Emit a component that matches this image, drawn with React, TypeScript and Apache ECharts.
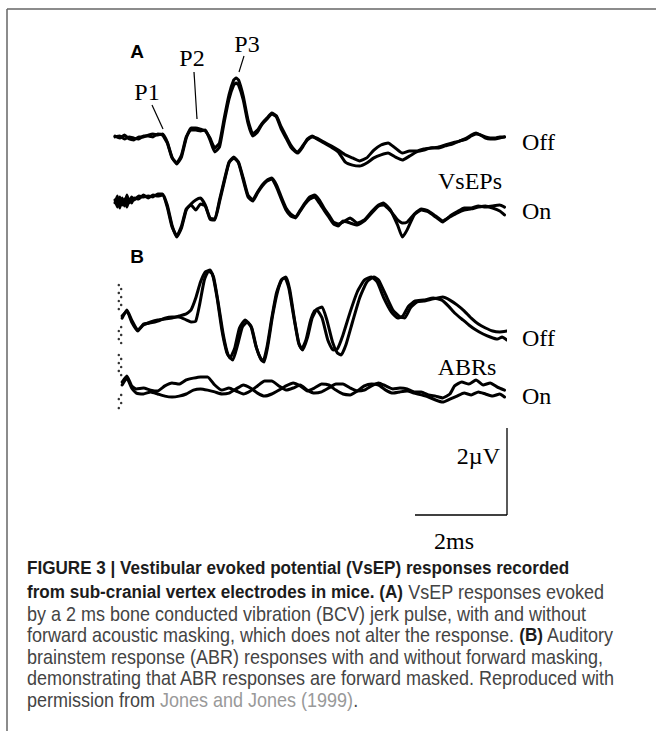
import React, { useEffect, useRef } from "react";
import * as echarts from "echarts";

// ---- Data: time in ms, amplitude in µV relative to each trace's baseline ----
const vsepOff1: [number, number][] = [
  [0.0, 0], [0.1, -0.07], [0.2, 0.03], [0.3, -0.1], [0.4, -0.13], [0.5, -0.03], [0.6, -0.03], [0.7, 0.03],
  [0.8, 0.07], [0.9, 0.03], [1.0, 0.07], [1.1, -0.2], [1.2, -0.7], [1.3, -0.93], [1.4, -0.7], [1.5, -0.07],
  [1.6, 0.27], [1.7, 0.27], [1.8, 0.23], [1.9, 0.17], [2.0, -0.07], [2.1, -0.4], [2.2, -0.23], [2.3, 0.6],
  [2.4, 1.37], [2.5, 1.87], [2.55, 1.93], [2.6, 1.87], [2.7, 1.33], [2.8, 0.53], [2.9, 0.07], [3.0, 0.2],
  [3.1, 0.43], [3.2, 0.6], [3.3, 0.77], [3.4, 0.67], [3.5, 0.3], [3.6, 0], [3.7, -0.3], [3.8, -0.5],
  [3.85, -0.53], [3.95, -0.33], [4.05, -0.13], [4.15, -0.03], [4.25, -0.07], [4.4, -0.2], [4.55, -0.33],
  [4.7, -0.47], [4.85, -0.63], [5.0, -0.73], [5.15, -0.83], [5.3, -0.73], [5.45, -0.47], [5.6, -0.3],
  [5.75, -0.23], [5.9, -0.4], [6.05, -0.57], [6.2, -0.5], [6.35, -0.5], [6.5, -0.43], [6.65, -0.4],
  [6.8, -0.37], [6.95, -0.3], [7.1, -0.23], [7.25, -0.17], [7.4, -0.07], [7.5, 0.03], [7.6, 0.1],
  [7.7, 0.03], [7.8, -0.03], [7.9, -0.07], [8.0, -0.07], [8.1, -0.03], [8.2, -0.03],
];
const vsepOff2: [number, number][] = [
  [0.0, -0.03], [0.1, 0], [0.2, -0.1], [0.3, -0.03], [0.4, -0.07], [0.5, -0.1], [0.6, 0], [0.7, 0],
  [0.8, -0.03], [0.9, 0.07], [1.0, 0.03], [1.1, -0.23], [1.2, -0.73], [1.3, -0.9], [1.4, -0.63], [1.5, -0.03],
  [1.6, 0.2], [1.7, 0.2], [1.8, 0.17], [1.9, 0.2], [2.0, -0.13], [2.1, -0.53], [2.2, -0.37], [2.3, 0.47],
  [2.4, 1.23], [2.5, 1.7], [2.55, 1.77], [2.6, 1.7], [2.7, 1.2], [2.8, 0.43], [2.9, 0], [3.0, 0.13],
  [3.1, 0.4], [3.2, 0.57], [3.3, 0.73], [3.4, 0.63], [3.5, 0.23], [3.6, -0.07], [3.7, -0.37], [3.8, -0.53],
  [3.85, -0.57], [3.95, -0.37], [4.05, -0.1], [4.15, 0], [4.25, -0.1], [4.4, -0.23], [4.55, -0.37],
  [4.7, -0.53], [4.85, -0.87], [5.0, -0.97], [5.15, -1.0], [5.3, -0.9], [5.45, -0.73], [5.6, -0.63],
  [5.75, -0.57], [5.9, -0.7], [6.05, -0.8], [6.2, -0.67], [6.35, -0.53], [6.5, -0.47], [6.65, -0.4],
  [6.8, -0.4], [6.95, -0.33], [7.1, -0.27], [7.25, -0.17], [7.4, -0.1], [7.5, 0], [7.6, 0.07],
  [7.7, 0.03], [7.8, -0.07], [7.9, -0.1], [8.0, -0.1], [8.1, -0.07], [8.2, -0.03],
];
const vsepOn1: [number, number][] = [
  [0.0, -0.03], [0.05, 0.2], [0.1, -0.2], [0.15, 0.13], [0.2, -0.13], [0.25, 0.23], [0.3, -0.03], [0.35, 0.17],
  [0.4, 0.07], [0.5, 0.2], [0.6, 0.17], [0.7, 0.2], [0.8, 0.17], [0.9, 0.27], [1.0, 0.27], [1.1, -0.1],
  [1.2, -0.77], [1.3, -1.17], [1.4, -0.87], [1.5, -0.27], [1.6, -0.07], [1.7, 0.07], [1.8, 0.13], [1.9, -0.1],
  [2.0, -0.53], [2.1, -0.57], [2.2, 0.07], [2.3, 0.73], [2.4, 1.33], [2.5, 1.5], [2.6, 1.33], [2.7, 0.8],
  [2.8, 0.23], [2.9, 0.07], [3.0, 0.33], [3.1, 0.57], [3.2, 0.73], [3.3, 0.8], [3.4, 0.57], [3.5, 0.17],
  [3.6, -0.2], [3.7, -0.4], [3.8, -0.5], [3.9, -0.27], [4.0, -0.03], [4.1, 0.17], [4.2, 0.23], [4.3, 0.07],
  [4.4, -0.2], [4.5, -0.43], [4.6, -0.67], [4.7, -0.73], [4.8, -0.67], [4.95, -0.53], [5.1, -0.7],
  [5.25, -0.6], [5.4, -0.33], [5.55, -0.1], [5.65, -0.03], [5.8, -0.27], [5.95, -0.77], [6.05, -1.17],
  [6.15, -0.93], [6.3, -0.43], [6.45, -0.27], [6.6, -0.33], [6.75, -0.5], [6.9, -0.67], [7.05, -0.47],
  [7.2, -0.33], [7.35, -0.2], [7.5, -0.2], [7.65, -0.13], [7.8, -0.17], [7.95, -0.13], [8.1, -0.1], [8.2, -0.17],
];
const vsepOn2: [number, number][] = [
  [0.0, 0.07], [0.05, -0.17], [0.1, 0.17], [0.15, -0.1], [0.2, 0.1], [0.25, -0.17], [0.3, 0.1], [0.35, -0.03],
  [0.4, 0.13], [0.5, 0.1], [0.6, 0.23], [0.7, 0.13], [0.8, 0.23], [0.9, 0.2], [1.0, 0.23], [1.1, -0.17],
  [1.2, -0.83], [1.3, -1.13], [1.4, -0.8], [1.5, -0.23], [1.6, -0.1], [1.7, -0.27], [1.8, -0.07], [1.9, -0.13],
  [2.0, -0.57], [2.1, -0.6], [2.2, 0], [2.3, 0.67], [2.4, 1.3], [2.5, 1.47], [2.6, 1.3], [2.7, 0.73],
  [2.8, 0.17], [2.9, 0.03], [3.0, 0.3], [3.1, 0.53], [3.2, 0.7], [3.3, 0.77], [3.4, 0.5], [3.5, 0.1],
  [3.6, -0.27], [3.7, -0.47], [3.8, -0.53], [3.9, -0.3], [4.0, -0.07], [4.1, 0.1], [4.2, 0.17], [4.3, -0.03],
  [4.4, -0.27], [4.5, -0.5], [4.6, -0.73], [4.7, -0.8], [4.8, -0.63], [4.95, -0.7], [5.1, -0.77],
  [5.25, -0.63], [5.4, -0.37], [5.55, -0.13], [5.65, -0.1], [5.8, -0.3], [5.95, -0.6], [6.05, -0.7],
  [6.15, -0.67], [6.3, -0.4], [6.45, -0.23], [6.6, -0.3], [6.75, -0.47], [6.9, -0.63], [7.05, -0.5],
  [7.2, -0.37], [7.35, -0.27], [7.5, -0.23], [7.65, -0.17], [7.8, -0.13], [7.95, -0.2], [8.1, -0.3], [8.2, -0.43],
];
const abrOff1: [number, number][] = [
  [0.15, 0.13], [0.25, 0.4], [0.35, 0.07], [0.48, -0.27], [0.6, -0.1], [0.75, 0], [0.9, 0.07], [1.05, 0.1],
  [1.2, 0.13], [1.35, 0.2], [1.5, 0.27], [1.6, 0.4], [1.7, 0.8], [1.8, 1.33], [1.9, 1.67], [2.0, 1.73],
  [2.08, 1.47], [2.18, 0.57], [2.28, -0.43], [2.38, -1.1], [2.48, -1.27], [2.58, -0.77], [2.68, -0.17],
  [2.78, 0], [2.88, -0.2], [2.98, -0.87], [3.08, -1.27], [3.14, -1.33], [3.22, -0.77], [3.32, 0.23],
  [3.42, 1.0], [3.52, 1.43], [3.6, 1.5], [3.68, 1.07], [3.78, 0.07], [3.88, -0.77], [3.95, -0.93],
  [4.05, -0.53], [4.15, 0.13], [4.25, 0.43], [4.36, 0.5], [4.46, 0.07], [4.58, -0.67], [4.68, -1.03],
  [4.76, -1.1], [4.86, -0.77], [5.0, 0], [5.15, 0.8], [5.3, 1.33], [5.45, 1.5], [5.55, 1.4], [5.7, 0.9],
  [5.85, 0.4], [6.0, 0.17], [6.1, 0.13], [6.22, 0.47], [6.36, 0.67], [6.5, 0.7], [6.7, 0.77], [6.9, 0.83],
  [7.05, 0.73], [7.2, 0.57], [7.35, 0.37], [7.5, 0.13], [7.65, -0.07], [7.8, -0.2], [7.95, -0.3],
  [8.1, -0.33], [8.25, -0.3],
];
const abrOff2: [number, number][] = [
  [0.15, 0.2], [0.25, 0.37], [0.35, 0], [0.48, -0.3], [0.6, -0.07], [0.75, -0.03], [0.9, 0.03], [1.05, 0.13],
  [1.2, 0.17], [1.35, 0.17], [1.5, 0.07], [1.6, 0], [1.7, 0.03], [1.78, 0.57], [1.88, 1.4], [1.97, 1.7],
  [2.05, 1.6], [2.15, 0.8], [2.25, -0.27], [2.35, -1.0], [2.42, -1.2], [2.52, -0.87], [2.62, -0.2],
  [2.74, 0.07], [2.86, -0.13], [2.96, -0.77], [3.06, -1.2], [3.12, -1.3], [3.2, -0.83], [3.3, 0.13],
  [3.4, 0.97], [3.5, 1.4], [3.58, 1.47], [3.66, 1.13], [3.76, 0.2], [3.86, -0.67], [3.93, -0.9],
  [4.02, -0.6], [4.12, 0.07], [4.2, 0.37], [4.25, 0.4], [4.36, 0.13], [4.48, -0.6], [4.59, -0.93],
  [4.68, -0.9], [4.8, -0.43], [4.95, 0.33], [5.1, 1.0], [5.25, 1.4], [5.4, 1.5], [5.52, 1.33], [5.66, 0.8],
  [5.82, 0.33], [5.95, 0.13], [6.06, 0.2], [6.18, 0.53], [6.32, 0.7], [6.5, 0.73], [6.7, 0.8], [6.88, 0.73],
  [7.02, 0.53], [7.15, 0.3], [7.3, 0.1], [7.45, -0.1], [7.6, -0.27], [7.75, -0.4], [7.9, -0.5],
  [8.05, -0.57], [8.15, -0.5], [8.25, -0.6],
];
const abrOn1: [number, number][] = [
  [0.15, 0.2], [0.25, 0.4], [0.35, 0.07], [0.45, -0.03], [0.6, 0], [0.75, -0.07], [0.9, -0.1], [1.05, 0.07],
  [1.2, 0.17], [1.35, 0.13], [1.5, 0.27], [1.65, 0.33], [1.8, 0.37], [1.95, 0.37], [2.1, 0.1], [2.25, -0.07],
  [2.4, 0], [2.55, -0.1], [2.7, -0.2], [2.85, -0.1], [3.0, 0.07], [3.15, 0.23], [3.3, 0.23], [3.45, 0.07],
  [3.6, -0.07], [3.75, 0], [3.9, 0.1], [4.05, -0.07], [4.2, -0.17], [4.35, -0.13], [4.5, 0], [4.65, 0.13],
  [4.8, 0.13], [4.95, 0], [5.1, -0.1], [5.25, -0.07], [5.4, 0.07], [5.55, 0.17], [5.7, 0.07], [5.85, -0.03],
  [6.0, 0], [6.15, -0.03], [6.3, -0.13], [6.45, -0.13], [6.6, -0.23], [6.75, -0.27], [6.9, -0.33],
  [7.05, -0.2], [7.15, 0.07], [7.3, 0.2], [7.45, 0.13], [7.6, 0.27], [7.75, 0.1], [7.9, 0.17], [8.05, 0.03],
  [8.2, -0.07],
];
const abrOn2: [number, number][] = [
  [0.15, 0.1], [0.25, 0.33], [0.35, 0], [0.45, -0.17], [0.6, -0.2], [0.75, -0.13], [0.9, -0.2], [1.05, -0.27],
  [1.2, -0.3], [1.35, -0.27], [1.5, -0.2], [1.65, -0.07], [1.8, -0.03], [1.95, -0.07], [2.1, -0.13],
  [2.25, -0.2], [2.4, -0.17], [2.55, -0.03], [2.7, 0.1], [2.85, 0], [3.0, -0.17], [3.15, -0.27], [3.3, -0.2],
  [3.45, -0.07], [3.6, 0.07], [3.75, 0.17], [3.9, 0.07], [4.05, -0.1], [4.2, 0], [4.35, 0.13], [4.5, 0.1],
  [4.65, -0.07], [4.8, -0.2], [4.95, -0.23], [5.1, -0.1], [5.25, 0.07], [5.4, 0.13], [5.55, 0.1],
  [5.7, -0.07], [5.85, -0.17], [6.0, -0.13], [6.15, -0.1], [6.3, -0.17], [6.45, -0.23], [6.6, -0.3],
  [6.75, -0.4], [6.9, -0.47], [7.05, -0.37], [7.2, -0.27], [7.35, -0.17], [7.5, -0.23], [7.65, -0.13],
  [7.8, -0.2], [7.95, -0.27], [8.1, -0.2], [8.2, -0.3],
];
// stimulus artefact dots at the start of the ABR traces
const abrOffDots: [number, number][] = [
  [0.08, 1.23], [0.13, 1.1], [0.08, 0.97], [0.13, 0.83], [0.08, 0.7], [0.13, 0.57], [0.08, 0.43],
  [0.13, -0.17], [0.08, -0.3], [0.13, -0.43], [0.08, -0.57], [0.13, -0.7],
];
const abrOnDots: [number, number][] = [
  [0.08, 1.1], [0.13, 0.97], [0.08, 0.83], [0.13, 0.7], [0.08, 0.57], [0.13, 0.43],
  [0.13, -0.23], [0.08, -0.37], [0.13, -0.5], [0.08, -0.67],
];
// vertical baselines (µV) of the four trace pairs
const baselineNames = ["VsEP Off", "VsEP On", "ABR Off", "ABR On"];
const baselineValues = [12.8, 10.6, 6.6, 4.4];

const captionLines = [
  "{b|FIGURE 3 | Vestibular evoked potential (VsEP) responses recorded}",
  "{b|from sub-cranial vertex electrodes in mice. (A)}{r| VsEP responses evoked}",
  "{r|by a 2 ms bone conducted vibration (BCV) jerk pulse, with and without}",
  "{r|forward acoustic masking, which does not alter the response. }{b|(B)}{r| Auditory}",
  "{r|brainstem response (ABR) responses with and without forward masking,}",
  "{r|demonstrating that ABR responses are forward masked. Reproduced with}",
  "{r|permission from }{g|Jones and Jones (1999)}{r|.}",
];
const captionY = [568, 592, 614, 635, 657, 678, 700];

const shift = (pts: [number, number][], base: number) => pts.map(([t, a]) => [t, +(a + base).toFixed(3)]);

const SERIF = "'Liberation Serif', 'Times New Roman', serif";
const SANS = "'Liberation Sans', Arial, sans-serif";

function buildOption() {
  const traceStyle = { color: "#000", width: 3, join: "round" as const, cap: "round" as const };
  const mkLine = (name: string, pts: [number, number][], base: number) => ({
    type: "line",
    name,
    data: shift(pts, base),
    showSymbol: false,
    symbol: "none",
    smooth: 0.15,
    lineStyle: traceStyle,
    silent: true,
  });
  const [bOffA, bOnA, bOffB, bOnB] = baselineValues;
  const series: any[] = [
    mkLine(baselineNames[0], vsepOff1, bOffA),
    mkLine(baselineNames[0], vsepOff2, bOffA),
    mkLine(baselineNames[1], vsepOn1, bOnA),
    mkLine(baselineNames[1], vsepOn2, bOnA),
    mkLine(baselineNames[2], abrOff1, bOffB),
    mkLine(baselineNames[2], abrOff2, bOffB),
    mkLine(baselineNames[3], abrOn1, bOnB),
    mkLine(baselineNames[3], abrOn2, bOnB),
    {
      type: "scatter",
      data: shift(abrOffDots, bOffB),
      symbolSize: 2.5,
      itemStyle: { color: "#000" },
      silent: true,
    },
    {
      type: "scatter",
      data: shift(abrOnDots, bOnB),
      symbolSize: 2.5,
      itemStyle: { color: "#000" },
      silent: true,
    },
  ];

  const serifText = (text: string, x: number, y: number, align = "left") => ({
    type: "text",
    x,
    y,
    style: { text, font: `24px ${SERIF}`, fill: "#000", align, verticalAlign: "middle" },
  });
  const line = (x1: number, y1: number, x2: number, y2: number, w = 1.2, c = "#000") => ({
    type: "line",
    shape: { x1, y1, x2, y2 },
    style: { stroke: c, lineWidth: w },
  });

  const graphic: any[] = [
    line(7, 9, 656, 9, 1.5, "#666"),
    line(7, 9, 7, 731, 1.5, "#666"),
    { type: "text", x: 137, y: 51, style: { text: "A", font: `bold 19px ${SANS}`, fill: "#000", align: "center", verticalAlign: "middle" } },
    { type: "text", x: 137, y: 256, style: { text: "B", font: `bold 19px ${SANS}`, fill: "#000", align: "center", verticalAlign: "middle" } },
    serifText("P1", 147, 92, "center"),
    serifText("P2", 192, 58, "center"),
    serifText("P3", 247, 44, "center"),
    line(152, 105, 163, 129),
    line(194, 72, 197, 119),
    line(244, 56, 239, 72),
    serifText("Off", 522, 142),
    serifText("VsEPs", 470, 181, "center"),
    serifText("On", 522, 211),
    serifText("Off", 522, 338),
    serifText("ABRs", 467, 367, "center"),
    serifText("On", 522, 396),
    serifText("2\u00b5V", 500, 456, "right"),
    line(507, 428, 507, 515, 1.3),
    line(415, 515, 507, 515, 1.3),
    serifText("2ms", 454, 541, "center"),
  ];

  captionLines.forEach((txt, i) => {
    graphic.push({
      type: "text",
      x: 27,
      y: captionY[i],
      scaleX: 0.9,
      style: {
        text: txt,
        verticalAlign: "middle",
        align: "left",
        rich: {
          b: { font: `bold 19px ${SANS}`, fill: "#1c1c1c" },
          r: { font: `20px ${SANS}`, fill: "#444" },
          g: { font: `20px ${SANS}`, fill: "#999" },
        },
      },
    });
  });

  return {
    animation: false,
    backgroundColor: "#fff",
    grid: { left: 115, right: 151.5, top: 40, height: 480 },
    xAxis: { type: "value", min: 0, max: 8.2, show: false },
    yAxis: { type: "value", min: 0, max: 16, show: false },
    series,
    graphic,
  };
}

export default function App() {
  const ref = useRef<HTMLDivElement>(null);
  useEffect(() => {
    if (!ref.current) return;
    const chart = echarts.init(ref.current, null, { renderer: "svg" });
    chart.setOption(buildOption() as any);
    return () => chart.dispose();
  }, []);
  return (
    <div
      ref={ref}
      style={{ position: "fixed", left: 0, top: 0, width: 656, height: 731, background: "#fff" }}
    />
  );
}
